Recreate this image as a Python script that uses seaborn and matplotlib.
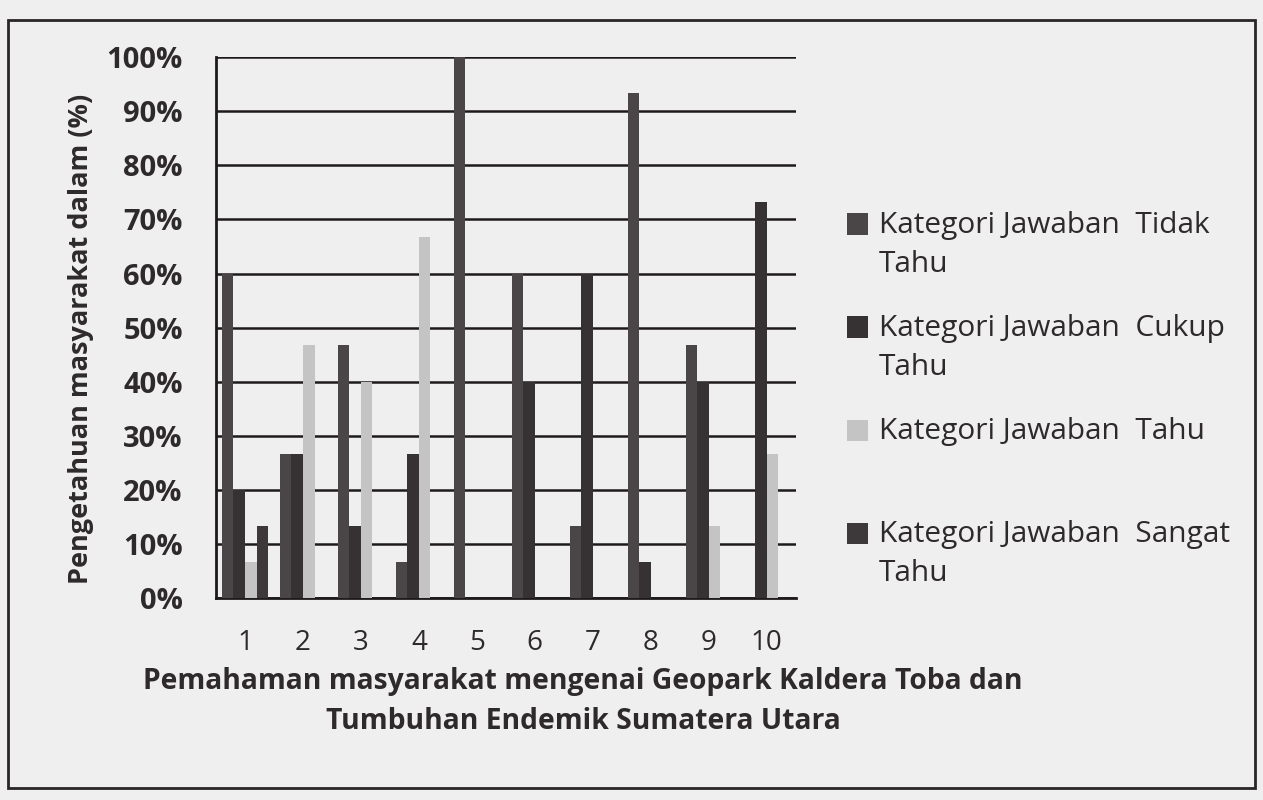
import pandas as pd
import matplotlib.pyplot as plt
import seaborn as sns
from matplotlib.patches import Rectangle
from matplotlib.legend_handler import HandlerPatch

# ================================
# Data (percent)
# ================================
items = ["1", "2", "3", "4", "5", "6", "7", "8", "9", "10"]
tidak_tahu = [60, 26.7, 46.7, 6.7, 100, 60, 13.3, 93.3, 46.7, 0]
cukup_tahu = [20, 26.7, 13.3, 26.7, 0, 40, 60, 6.7, 40, 73.3]
tahu = [6.7, 46.7, 40, 66.7, 0, 0, 0, 0, 13.3, 26.7]
sangat_tahu = [13.3, 0, 0, 0, 0, 0, 0, 0, 0, 0]

categories = ["Kategori Jawaban  Tidak Tahu", "Kategori Jawaban  Cukup Tahu",
              "Kategori Jawaban  Tahu", "Kategori Jawaban  Sangat Tahu"]
legend_labels = ["Kategori Jawaban  Tidak\nTahu", "Kategori Jawaban  Cukup\nTahu",
                 "Kategori Jawaban  Tahu\n", "Kategori Jawaban  Sangat\nTahu"]
y_ticks = [0, 10, 20, 30, 40, 50, 60, 70, 80, 90, 100]

rows = []
for cat, vals in zip(categories, [tidak_tahu, cukup_tahu, tahu, sangat_tahu]):
    for it, v in zip(items, vals):
        rows.append({"item": it, "kategori": cat, "nilai": v})
df = pd.DataFrame(rows)

palette = {categories[0]: "#4a4546", categories[1]: "#363132",
           categories[2]: "#c4c4c4", categories[3]: "#3d3839"}
ink = "#2e2a2b"
line = "#1e1a1b"

# ================================
# Plot
# ================================
sns.set_style("white")
plt.rcParams["font.family"] = ["Open Sans", "DejaVu Sans"]
paper = "#efefef"

fig = plt.figure(figsize=(12.63, 8), dpi=100, facecolor=paper)
ax = fig.add_axes([0.171, 0.2525, 0.459, 0.676])
ax.set_facecolor(paper)

sns.barplot(data=df, x="item", y="nilai", hue="kategori", hue_order=categories,
            palette=palette, width=0.8, gap=0, saturation=1, linewidth=0,
            ax=ax, zorder=3)

ax.set_ylim(0, 100)
ax.set_xlim(-0.5, len(items) - 0.5)
ax.set_yticks(y_ticks)
ax.set_yticklabels([f"{t}%" for t in y_ticks], fontsize=21, fontweight="bold", color=ink)
ax.yaxis.grid(True, color=line, linewidth=1.8, zorder=0)
ax.set_axisbelow(True)
ax.tick_params(axis="y", direction="out", length=10, width=1.5, color=line, pad=14)

# category boundaries as ticks, labels at centers
ax.set_xticks([i - 0.5 for i in range(len(items) + 1)], minor=True)
ax.tick_params(axis="x", which="minor", direction="out", length=9, width=1.5, color=line)
ax.tick_params(axis="x", which="major", length=0, pad=22, labelsize=20, labelcolor=ink)

for s in ["top", "right"]:
    ax.spines[s].set_visible(False)
for s in ["left", "bottom"]:
    ax.spines[s].set_color(line)
    ax.spines[s].set_linewidth(2)

ax.set_ylabel("Pengetahuan masyarakat dalam (%)", fontsize=19.5, fontweight="bold", color=ink)
ax.yaxis.set_label_coords(-0.21, 0.48)
ax.set_xlabel("Pemahaman masyarakat mengenai Geopark Kaldera Toba dan\nTumbuhan Endemik Sumatera Utara",
              fontsize=20.3, fontweight="bold", color=ink, linespacing=1.5)
ax.xaxis.set_label_coords(0.633, -0.128)
ax.xaxis.label.set_va("top")


# legend squares sit beside the first text line, as in the original
def square_first_line(legend, orig_handle, xdescent, ydescent, width, height, fontsize):
    return Rectangle((-xdescent, -ydescent + 0.72 * fontsize), width, height)


handles, _ = ax.get_legend_handles_labels()
ax.get_legend().remove()
leg = fig.legend(handles, legend_labels, loc="upper left", bbox_to_anchor=(832 / 1263, 1 - 196 / 800),
                 frameon=False, fontsize=21.5, handlelength=0.72, handleheight=0.72,
                 handletextpad=0.35, labelspacing=1.18, borderpad=0, labelcolor=ink,
                 handler_map={h: HandlerPatch(patch_func=square_first_line) for h in handles})
for t in leg.get_texts():
    t.set_linespacing(1.45)

# outer frame of the chart box
fig.patches.append(Rectangle((0.006, 0.015), 0.988, 0.96, transform=fig.transFigure,
                             fill=False, edgecolor="#2a2627", linewidth=2))

fig.savefig("out.png", dpi=100, facecolor=paper)
